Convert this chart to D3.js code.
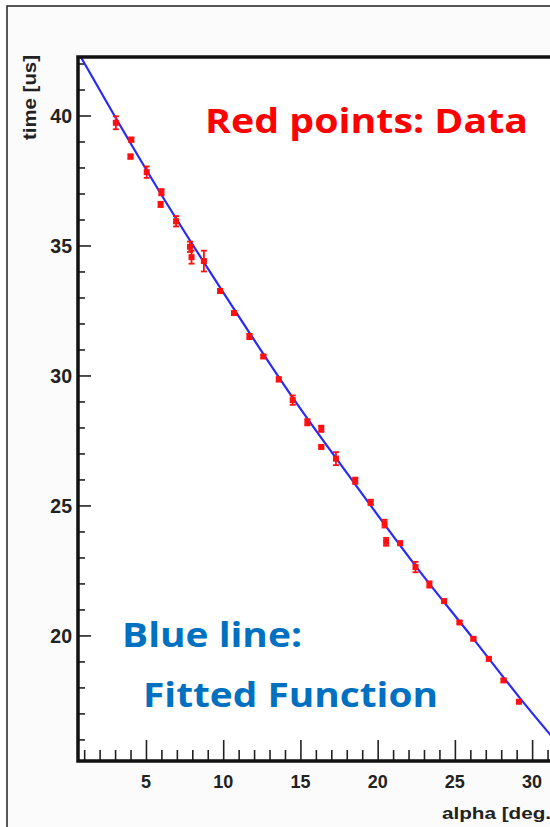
<!DOCTYPE html>
<html>
<head>
<meta charset="utf-8">
<script src="https://cdn.jsdelivr.net/npm/d3@7"></script>
<style>
  body { margin: 0; background: #fff; }
  svg { display: block; }
</style>
</head>
<body>
<svg id="chart" width="550" height="827"></svg>
<script>
// measured data points: angle, time and error bar half-height
const alpha = [3.05, 4.05, 4.0, 5.05, 6.0, 5.95, 6.95, 7.85, 7.95, 8.75, 9.8, 10.7, 11.7, 12.6, 13.6, 14.5, 15.45, 16.35, 16.35, 17.3, 18.55, 19.55, 20.45, 20.55, 21.45, 22.45, 23.35, 24.3, 25.3, 26.2, 27.2, 28.15, 29.15];
const time = [39.72, 39.07, 38.42, 37.82, 37.05, 36.58, 35.93, 34.95, 34.55, 34.4, 33.25, 32.4, 31.5, 30.73, 29.85, 29.05, 28.2, 27.95, 27.25, 26.8, 25.95, 25.12, 24.3, 23.6, 23.55, 22.63, 21.96, 21.32, 20.5, 19.87, 19.1, 18.27, 17.45];
const err = [0.25, 0.08, 0.08, 0.22, 0.12, 0.1, 0.2, 0.2, 0.25, 0.4, 0.08, 0.05, 0.1, 0.06, 0.08, 0.18, 0.12, 0.12, 0.05, 0.25, 0.12, 0.1, 0.15, 0.15, 0.05, 0.2, 0.12, 0.05, 0.05, 0.05, 0.06, 0.06, 0.05];

// fitted curve
const fitAlpha = [0.6, 3, 6, 10, 14.5, 18.5, 22.5, 26.2, 29.2, 32];
const fitTime = [42.44, 39.95, 36.95, 33.2, 29.15, 25.85, 22.64, 19.87, 17.6, 15.6];

const xTicks = [5, 10, 15, 20, 25, 30];
const yTicks = [20, 25, 30, 35, 40];

const svg = d3.select('#chart');

const pLeft = 78, pTop = 57, pBottom = 761, pRight = 563;

const x = d3.scaleLinear().domain([0.6, 32]).range([pLeft, pRight]);
const y = d3.scaleLinear().domain([15.17, 42.25]).range([pBottom, pTop]);

// outer pad frame
svg.append('rect')
    .attr('x', 7).attr('y', 6)
    .attr('width', 620).attr('height', 840)
    .attr('fill', '#fafbfa')
    .attr('stroke', '#222')
    .attr('stroke-width', 1.5);

svg.append('rect')
    .attr('x', pLeft).attr('y', pTop)
    .attr('width', pRight - pLeft).attr('height', pBottom - pTop)
    .attr('fill', '#fff');

svg.append('clipPath').attr('id', 'clip')
  .append('rect')
    .attr('x', pLeft).attr('y', pTop)
    .attr('width', pRight - pLeft).attr('height', pBottom - pTop);

// minor + major ticks, drawn inward like ROOT
const xAxis = d3.axisBottom(x)
    .tickValues(d3.range(1, 32, 1))
    .tickSize(-11)
    .tickFormat('');
const gx = svg.append('g')
    .attr('transform', `translate(0,${pBottom})`)
    .call(xAxis);
gx.select('.domain').remove();
gx.selectAll('.tick line')
    .attr('stroke', '#222')
    .attr('stroke-width', 1.6)
    .attr('y2', (d) => d % 5 === 0 ? -21 : -11);

const yAxis = d3.axisLeft(y)
    .tickValues(d3.range(16, 43, 1))
    .tickSize(-7)
    .tickFormat('');
const gy = svg.append('g')
    .attr('transform', `translate(${pLeft},0)`)
    .call(yAxis);
gy.select('.domain').remove();
gy.selectAll('.tick line')
    .attr('stroke', '#222')
    .attr('stroke-width', 1.6)
    .attr('x2', (d) => d % 5 === 0 ? 13 : 7);

// tick labels
svg.append('g').selectAll('text')
    .data(xTicks)
    .enter()
    .append('text')
    .attr('x', (d) => x(d))
    .attr('y', 788)
    .attr('text-anchor', 'middle')
    .attr('font-family', 'Liberation Sans, Arial, sans-serif')
    .attr('font-weight', 'bold')
    .attr('font-size', 18)
    .attr('fill', '#222')
    .text((d) => d);

svg.append('g').selectAll('text')
    .data(yTicks)
    .enter()
    .append('text')
    .attr('x', 72)
    .attr('y', (d) => y(d) + 8)
    .attr('text-anchor', 'end')
    .attr('font-family', 'Liberation Sans, Arial, sans-serif')
    .attr('font-weight', 'bold')
    .attr('font-size', 19.5)
    .attr('fill', '#222')
    .text((d) => d);

// axis titles
svg.append('text')
    .attr('x', 442).attr('y', 819)
    .attr('font-family', 'Liberation Sans, Arial, sans-serif')
    .attr('font-weight', 'bold')
    .attr('font-size', 17)
    .attr('fill', '#222')
    .attr('textLength', 116)
    .attr('lengthAdjust', 'spacingAndGlyphs')
    .text('alpha [deg.]');

svg.append('text')
    .attr('transform', 'translate(36,140) rotate(-90)')
    .attr('font-family', 'Liberation Sans, Arial, sans-serif')
    .attr('font-weight', 'bold')
    .attr('font-size', 18)
    .attr('fill', '#222')
    .attr('textLength', 85)
    .attr('lengthAdjust', 'spacingAndGlyphs')
    .text('time [us]');

const plot = svg.append('g').attr('clip-path', 'url(#clip)');

// fitted function
const fitPts = fitAlpha.map((a, i) => [a, fitTime[i]]);
plot.append('path')
    .datum(fitPts)
    .attr('fill', 'none')
    .attr('stroke', '#2a2af5')
    .attr('stroke-width', 2.2)
    .attr('d', d3.line()
        .x((d) => x(d[0]))
        .y((d) => y(d[1]))
        .curve(d3.curveMonotoneX));

// data points with error bars
const pts = alpha.map((a, i) => ({a: a, t: time[i], e: err[i]}));

const eb = plot.append('g').selectAll('g')
    .data(pts)
    .enter()
    .append('g')
    .attr('stroke', '#ff1010')
    .attr('stroke-width', 1.8);
eb.append('line')
    .attr('x1', (d) => x(d.a)).attr('x2', (d) => x(d.a))
    .attr('y1', (d) => y(d.t + d.e)).attr('y2', (d) => y(d.t - d.e));
eb.append('line')
    .attr('x1', (d) => x(d.a) - 3).attr('x2', (d) => x(d.a) + 3)
    .attr('y1', (d) => y(d.t + d.e)).attr('y2', (d) => y(d.t + d.e));
eb.append('line')
    .attr('x1', (d) => x(d.a) - 3).attr('x2', (d) => x(d.a) + 3)
    .attr('y1', (d) => y(d.t - d.e)).attr('y2', (d) => y(d.t - d.e));

plot.append('g').selectAll('rect')
    .data(pts)
    .enter()
    .append('rect')
    .attr('x', (d) => x(d.a) - 3)
    .attr('y', (d) => y(d.t) - 3)
    .attr('width', 6).attr('height', 6)
    .attr('fill', '#ff1010');

// frame lines of the plot area
svg.append('path')
    .attr('d', `M${pRight + 20},${pTop}H${pLeft}V${pBottom}H${pRight + 20}`)
    .attr('fill', 'none')
    .attr('stroke', '#111')
    .attr('stroke-width', 3.5);

// annotations
svg.append('text')
    .attr('x', 205).attr('y', 133)
    .attr('font-family', 'Open Sans, Lato, sans-serif')
    .attr('font-weight', 'bold')
    .attr('font-size', 34)
    .attr('fill', '#ff0000')
    .attr('textLength', 323)
    .attr('lengthAdjust', 'spacingAndGlyphs')
    .text('Red points: Data');

svg.append('text')
    .attr('x', 122).attr('y', 647)
    .attr('font-family', 'Open Sans, Lato, sans-serif')
    .attr('font-weight', 'bold')
    .attr('font-size', 34)
    .attr('fill', '#0070c0')
    .attr('textLength', 180)
    .attr('lengthAdjust', 'spacingAndGlyphs')
    .text('Blue line:');

svg.append('text')
    .attr('x', 143).attr('y', 707)
    .attr('font-family', 'Open Sans, Lato, sans-serif')
    .attr('font-weight', 'bold')
    .attr('font-size', 34)
    .attr('fill', '#0070c0')
    .attr('textLength', 295)
    .attr('lengthAdjust', 'spacingAndGlyphs')
    .text('Fitted Function');
</script>
</body>
</html>
